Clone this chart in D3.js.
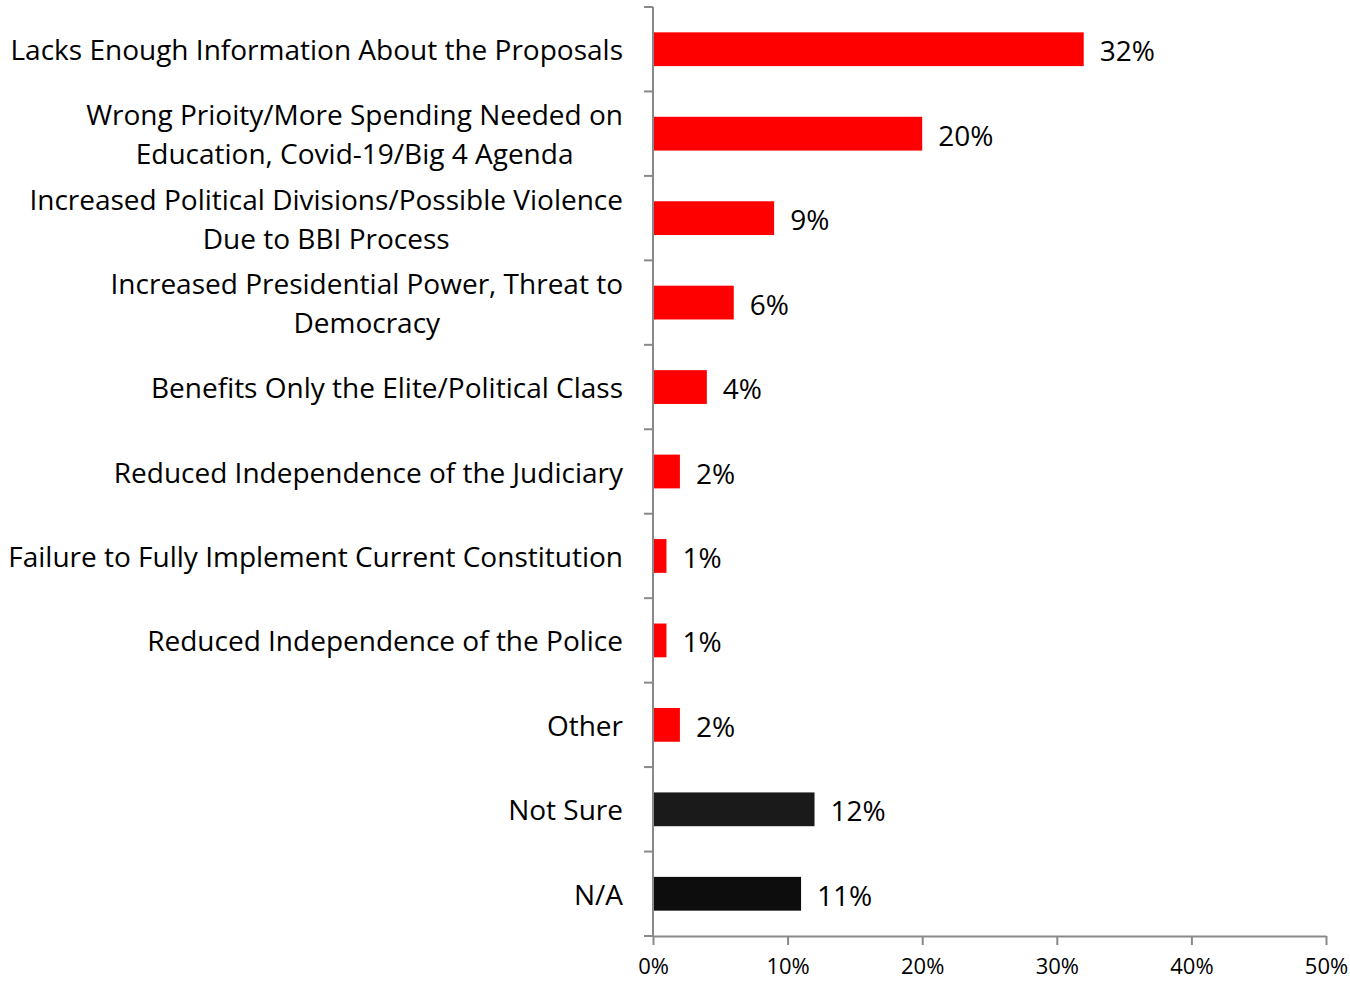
<!DOCTYPE html>
<html>
<head>
<meta charset="utf-8">
<script src="https://cdn.jsdelivr.net/npm/d3@7"></script>
<style>
  html, body { margin: 0; padding: 0; background: #fff; }
  svg { display: block; }
  text { font-family: "Open Sans", Lato, sans-serif; fill: #000; }
</style>
</head>
<body>
<svg id="chart" width="1350" height="981"></svg>
<script>
// Reasons given, each entry is one or two label lines
const categories = [
  ["Lacks Enough Information About the Proposals"],
  ["Wrong Prioity/More Spending Needed on", "Education, Covid-19/Big 4 Agenda"],
  ["Increased Political Divisions/Possible Violence", "Due to BBI Process"],
  ["Increased Presidential Power, Threat to", "Democracy"],
  ["Benefits Only the Elite/Political Class"],
  ["Reduced Independence of the Judiciary"],
  ["Failure to Fully Implement Current Constitution"],
  ["Reduced Independence of the Police"],
  ["Other"],
  ["Not Sure"],
  ["N/A"]
];
const values = [32, 20, 9, 6, 4, 2, 1, 1, 2, 12, 11];
const barColors = ["#ff0000", "#ff0000", "#ff0000", "#ff0000", "#ff0000", "#ff0000",
                   "#ff0000", "#ff0000", "#ff0000", "#1a1a1a", "#0d0d0d"];
const xTicks = [0, 10, 20, 30, 40, 50];

const svg = d3.select("#chart");
const plotLeft = 653, plotRight = 1326, plotTop = 7, plotBottom = 936;

const x = d3.scaleLinear().domain([0, 50]).range([plotLeft, plotRight]);
const y = d3.scaleBand().domain(d3.range(categories.length)).range([plotTop, plotBottom])
  .paddingInner(0.6).paddingOuter(0.3);
const band = d3.scaleBand().domain(d3.range(categories.length)).range([plotTop, plotBottom]);

const axisColor = "#898989";
const labelSize = 28;

// bars
svg.append("g").selectAll("rect").data(values).join("rect")
  .attr("x", x(0))
  .attr("y", (d, i) => y(i))
  .attr("width", d => x(d) - x(0))
  .attr("height", y.bandwidth())
  .attr("fill", (d, i) => barColors[i]);

// value labels
svg.append("g").selectAll("text").data(values).join("text")
  .attr("x", d => x(d) + 16)
  .attr("y", (d, i) => y(i) + y.bandwidth() / 2 + 1)
  .attr("dominant-baseline", "central")
  .attr("font-size", labelSize)
  .text(d => d + "%");

// y axis: line plus category-boundary ticks
const yAxis = svg.append("g");
yAxis.append("line")
  .attr("x1", plotLeft).attr("x2", plotLeft).attr("y1", plotTop).attr("y2", plotBottom)
  .attr("stroke", axisColor).attr("stroke-width", 2);
const bounds = d3.range(categories.length + 1).map(i => i < categories.length ? band(i) : plotBottom);
yAxis.selectAll("line.tick").data(bounds).join("line").attr("class", "tick")
  .attr("x1", plotLeft - 9).attr("x2", plotLeft).attr("y1", d => d).attr("y2", d => d)
  .attr("stroke", axisColor).attr("stroke-width", 2);

// category labels
const labelG = svg.append("g");
categories.forEach((lines, i) => {
  const cy = band(i) + band.bandwidth() / 2;
  const lineH = 39;
  const g = labelG.append("text")
    .attr("font-size", labelSize)
    .attr("text-anchor", "middle");
  lines.forEach((ln, k) => {
    g.append("tspan")
      .attr("y", cy + (k - (lines.length - 1) / 2) * lineH)
      .attr("dominant-baseline", "central")
      .text(ln);
  });
  // right-align the block, centre lines within it
  const w = d3.max(g.selectAll("tspan").nodes(), n => n.getComputedTextLength());
  g.selectAll("tspan").attr("x", 623 - w / 2);
});

// x axis
const xAxis = d3.axisBottom(x).tickValues(xTicks).tickSize(9).tickSizeOuter(0)
  .tickFormat(d => d + "%");
const xg = svg.append("g").attr("transform", `translate(0,${plotBottom})`).call(xAxis);
xg.select(".domain").attr("stroke", axisColor).attr("stroke-width", 2);
xg.selectAll(".tick line").attr("stroke", axisColor).attr("stroke-width", 2);
xg.selectAll(".tick text")
  .attr("font-size", 22).attr("font-family", "'Open Sans', sans-serif")
  .attr("fill", "#000").attr("dy", null).attr("y", 38);
</script>
</body>
</html>
